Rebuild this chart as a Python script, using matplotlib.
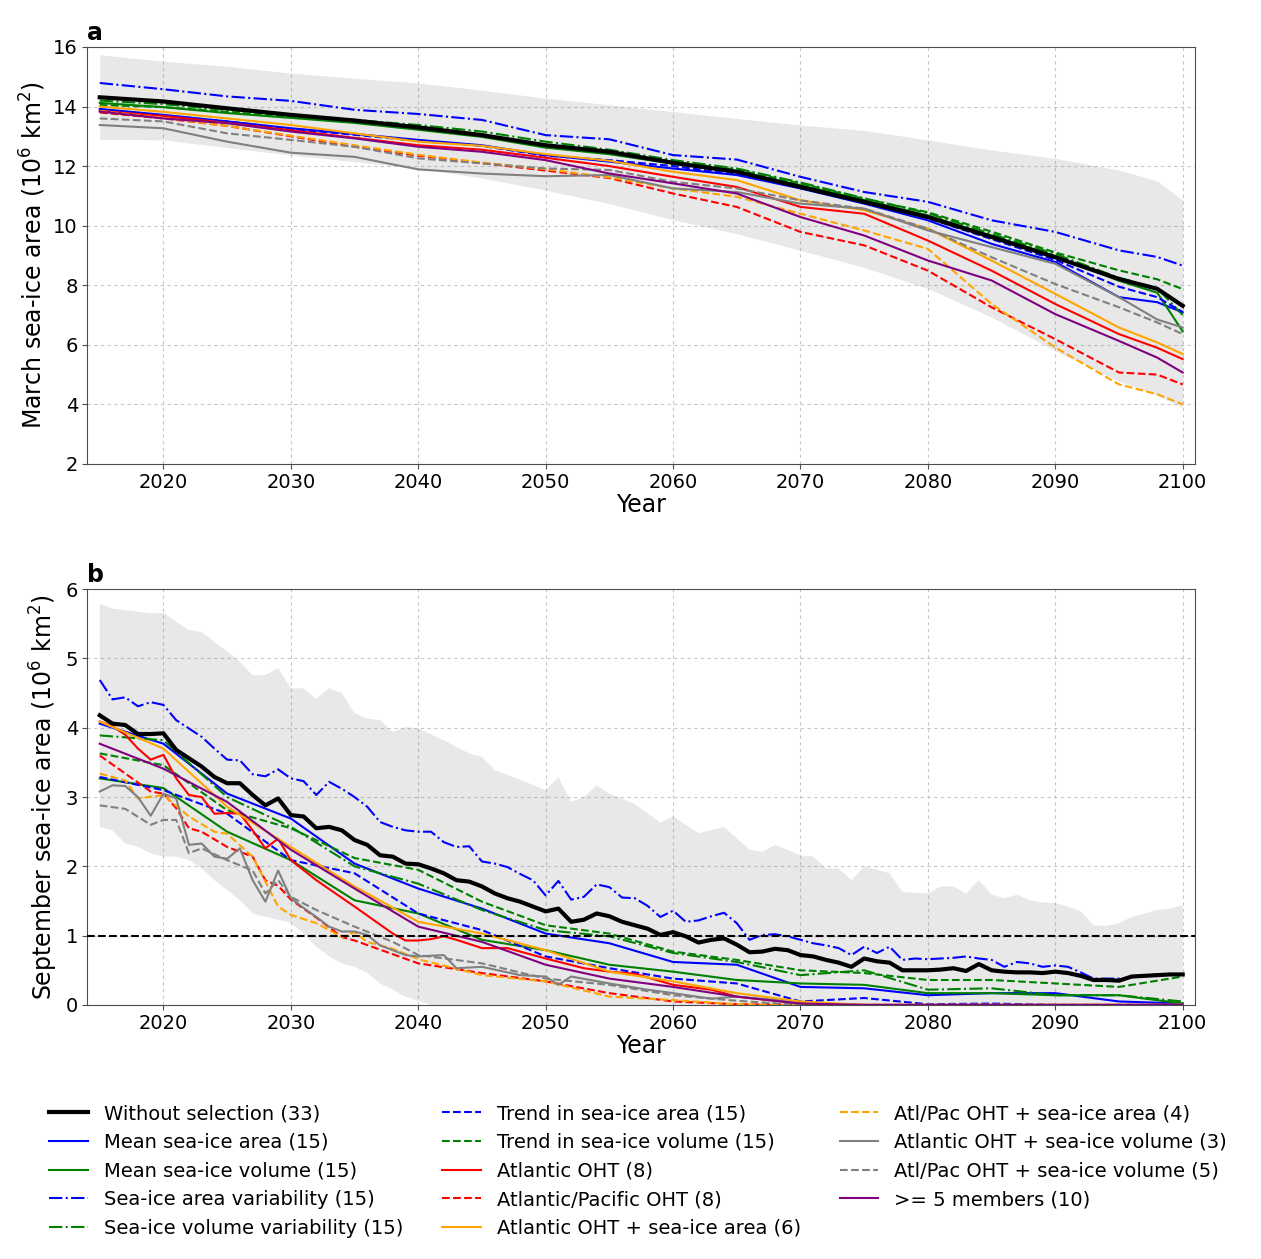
import numpy as np
import matplotlib
matplotlib.use("Agg")
import matplotlib.pyplot as plt

# ---------------- data: panel a (March) ----------------
years_a = [2015, 2020, 2025, 2030, 2035, 2040, 2045, 2050, 2055, 2060,
           2065, 2070, 2075, 2080, 2085, 2090, 2095, 2098, 2100]

env_a_upper = [15.74, 15.52, 15.35, 15.12, 14.95, 14.79, 14.55, 14.28, 14.06, 13.83,
               13.60, 13.38, 13.20, 12.88, 12.54, 12.26, 11.87, 11.50, 10.85]
env_a_lower = [12.90, 12.88, 12.62, 12.37, 12.15, 11.92, 11.60, 11.19, 10.74, 10.20,
               9.73, 9.17, 8.60, 7.89, 6.93, 5.80, 4.78, 4.30, 3.90]

a_black = [14.31, 14.17, 13.94, 13.72, 13.53, 13.30, 13.04, 12.70, 12.48, 12.11,
           11.81, 11.30, 10.80, 10.29, 9.62, 8.94, 8.21, 7.88, 7.31]
a_mean_area = [13.92, 13.72, 13.50, 13.27, 13.08, 12.88, 12.70, 12.37, 12.15, 11.92,
               11.70, 11.25, 10.74, 10.18, 9.39, 8.78, 7.60, 7.43, 7.09]
a_mean_vol = [14.12, 13.98, 13.78, 13.62, 13.45, 13.22, 12.98, 12.62, 12.40, 12.08,
              11.82, 11.36, 10.86, 10.34, 9.66, 8.98, 8.15, 7.75, 6.45]
a_var_area = [14.79, 14.58, 14.34, 14.19, 13.89, 13.75, 13.55, 13.04, 12.90, 12.37,
              12.22, 11.64, 11.13, 10.80, 10.18, 9.79, 9.17, 8.95, 8.66]
a_var_vol = [14.20, 14.08, 13.88, 13.72, 13.55, 13.38, 13.16, 12.82, 12.55, 12.20,
             11.92, 11.45, 10.92, 10.42, 9.72, 9.05, 8.25, 7.90, 7.00]
a_trend_area = [13.85, 13.70, 13.50, 13.25, 13.05, 12.85, 12.68, 12.35, 12.20, 12.00,
                11.72, 11.30, 10.80, 10.25, 9.55, 8.85, 7.95, 7.60, 7.10]
a_trend_vol = [14.05, 13.98, 13.82, 13.66, 13.48, 13.25, 13.02, 12.70, 12.45, 12.15,
               11.88, 11.42, 10.90, 10.45, 9.80, 9.10, 8.50, 8.20, 7.87]
a_atl = [13.85, 13.68, 13.45, 13.20, 12.95, 12.70, 12.55, 12.28, 12.00, 11.64,
         11.30, 10.63, 10.40, 9.50, 8.49, 7.37, 6.36, 5.90, 5.52]
a_atlpac = [13.80, 13.60, 13.35, 13.00, 12.65, 12.35, 12.10, 11.85, 11.60, 11.08,
            10.63, 9.79, 9.34, 8.49, 7.26, 6.19, 5.07, 5.00, 4.67]
a_atl_area = [14.00, 13.82, 13.60, 13.38, 13.10, 12.82, 12.68, 12.40, 12.18, 11.81,
              11.53, 10.85, 10.52, 9.90, 8.83, 7.71, 6.58, 6.08, 5.69]
a_atlpac_area = [13.85, 13.62, 13.35, 13.02, 12.70, 12.38, 12.12, 11.90, 11.62, 11.25,
                 10.97, 10.40, 9.84, 9.22, 7.37, 5.91, 4.67, 4.34, 4.00]
a_atl_vol = [13.38, 13.27, 12.82, 12.45, 12.31, 11.89, 11.75, 11.66, 11.70, 11.25,
             11.13, 10.74, 10.57, 9.84, 9.28, 8.72, 7.60, 6.85, 6.58]
a_atlpac_vol = [13.60, 13.50, 13.10, 12.88, 12.65, 12.26, 12.09, 11.92, 11.87, 11.47,
                11.25, 10.85, 10.57, 9.90, 8.94, 8.04, 7.26, 6.75, 6.36]
a_members = [13.83, 13.60, 13.44, 13.16, 12.93, 12.65, 12.48, 12.20, 11.75, 11.42,
             11.08, 10.29, 9.67, 8.83, 8.16, 7.03, 6.13, 5.57, 5.07]

# ---------------- data: panel b (September) ----------------
years_b = [2015, 2020, 2025, 2030, 2035, 2040, 2045, 2050, 2055, 2060,
           2065, 2070, 2075, 2080, 2085, 2090, 2095, 2100]
years_b_all = list(range(2015, 2101))

env_b_up_years = [2015, 2016, 2017, 2019, 2020, 2021, 2022, 2023, 2024, 2025, 2026, 2027,
                  2028, 2029, 2030, 2031, 2032, 2033, 2034, 2035, 2036, 2037, 2038, 2039,
                  2040, 2042, 2044, 2045, 2046, 2048, 2050, 2051, 2052, 2053, 2054, 2055,
                  2057, 2059, 2060, 2062, 2064, 2066, 2067, 2068, 2070, 2071, 2072, 2073,
                  2074, 2075, 2076, 2077, 2078, 2080, 2081, 2082, 2083, 2084, 2085, 2086,
                  2087, 2088, 2089, 2090, 2091, 2092, 2093, 2094, 2095, 2096, 2097, 2098,
                  2099, 2100]
env_b_upper = [5.79, 5.72, 5.70, 5.65, 5.66, 5.53, 5.41, 5.38, 5.24, 5.10, 4.95, 4.76,
               4.76, 4.86, 4.57, 4.57, 4.42, 4.57, 4.50, 4.21, 4.13, 4.11, 3.94, 4.01,
               3.99, 3.82, 3.63, 3.58, 3.39, 3.25, 3.10, 3.29, 2.93, 3.00, 3.17, 3.05,
               2.90, 2.63, 2.72, 2.48, 2.57, 2.24, 2.21, 2.31, 2.16, 2.14, 1.97, 1.97,
               1.80, 2.00, 1.95, 1.90, 1.63, 1.61, 1.71, 1.71, 1.61, 1.80, 1.59, 1.54,
               1.59, 1.51, 1.48, 1.47, 1.42, 1.35, 1.15, 1.14, 1.18, 1.27, 1.32, 1.37,
               1.39, 1.44]
env_b_low_years = [2015, 2016, 2017, 2018, 2019, 2020, 2021, 2022, 2023, 2024, 2025,
                   2026, 2027, 2028, 2029, 2030, 2031, 2032, 2033, 2034, 2035, 2036,
                   2037, 2038, 2039, 2040, 2041, 2100]
env_b_lower = [2.57, 2.52, 2.33, 2.28, 2.19, 2.14, 2.14, 2.09, 1.97, 1.80, 1.66,
               1.51, 1.32, 1.27, 1.23, 1.18, 1.03, 0.84, 0.70, 0.60, 0.55, 0.46,
               0.31, 0.22, 0.12, 0.06, 0.0, 0.0]

b_black = [4.18, 4.06, 4.04, 3.91, 3.91, 3.92, 3.68, 3.56, 3.44, 3.29,
           3.20, 3.20, 3.03, 2.88, 2.98, 2.74, 2.72, 2.55, 2.57, 2.52,
           2.38, 2.31, 2.16, 2.14, 2.04, 2.03, 1.97, 1.90, 1.80, 1.78,
           1.71, 1.61, 1.54, 1.49, 1.42, 1.35, 1.39, 1.20, 1.23, 1.32,
           1.28, 1.20, 1.15, 1.10, 1.01, 1.05, 0.99, 0.90, 0.94, 0.96,
           0.87, 0.76, 0.77, 0.81, 0.79, 0.72, 0.70, 0.65, 0.61, 0.55,
           0.67, 0.63, 0.61, 0.50, 0.50, 0.50, 0.51, 0.53, 0.49, 0.59,
           0.50, 0.48, 0.47, 0.47, 0.46, 0.48, 0.46, 0.42, 0.36, 0.36,
           0.35, 0.41, 0.42, 0.43, 0.44, 0.44]
b_var_area = [4.69, 4.41, 4.44, 4.31, 4.37, 4.33, 4.11, 3.99, 3.87, 3.70,
              3.54, 3.53, 3.33, 3.30, 3.40, 3.27, 3.23, 3.03, 3.22, 3.12,
              3.00, 2.86, 2.64, 2.57, 2.52, 2.50, 2.50, 2.35, 2.28, 2.29,
              2.07, 2.04, 1.99, 1.89, 1.80, 1.58, 1.79, 1.52, 1.56, 1.74,
              1.70, 1.55, 1.54, 1.43, 1.27, 1.36, 1.20, 1.22, 1.28, 1.33,
              1.18, 0.94, 1.01, 1.02, 0.99, 0.94, 0.89, 0.86, 0.82, 0.72,
              0.84, 0.75, 0.84, 0.65, 0.67, 0.66, 0.67, 0.68, 0.70, 0.67,
              0.65, 0.55, 0.62, 0.60, 0.55, 0.57, 0.55, 0.47, 0.38, 0.38,
              0.38, 0.40, 0.42, 0.44, 0.44, 0.43]
b_mean_area = [4.06, 3.77, 3.05, 2.69, 2.04, 1.68, 1.39, 1.03, 0.89, 0.62,
               0.58, 0.26, 0.24, 0.14, 0.17, 0.17, 0.05, 0.02]
b_mean_vol = [3.27, 3.13, 2.50, 2.09, 1.51, 1.32, 0.94, 0.79, 0.58, 0.48,
              0.36, 0.31, 0.29, 0.17, 0.17, 0.14, 0.14, 0.02]
b_var_vol = [3.89, 3.82, 3.00, 2.57, 2.00, 1.75, 1.37, 1.08, 0.99, 0.75,
             0.62, 0.43, 0.50, 0.22, 0.24, 0.14, 0.14, 0.05]
b_trend_area = [3.29, 3.10, 2.76, 2.09, 1.90, 1.32, 1.08, 0.70, 0.53, 0.38,
                0.31, 0.05, 0.10, 0.01, 0.02, 0.00, 0.00, 0.00]
b_trend_vol = [3.63, 3.46, 2.81, 2.55, 2.12, 1.95, 1.49, 1.15, 1.03, 0.77,
               0.65, 0.50, 0.46, 0.36, 0.36, 0.31, 0.26, 0.41]
b_atl_years = [2015, 2016, 2017, 2018, 2019, 2020, 2021, 2022, 2023, 2024, 2025, 2026,
               2027, 2028, 2029, 2030, 2032, 2035, 2038, 2039, 2040, 2041, 2042, 2043,
               2045, 2047, 2050, 2053, 2055, 2057, 2060, 2063, 2065, 2070, 2075, 2080,
               2085, 2090, 2095, 2100]
b_atl = [4.09, 4.02, 3.90, 3.70, 3.54, 3.61, 3.27, 3.03, 3.00, 2.76, 2.77, 2.76,
         2.52, 2.26, 2.40, 2.09, 1.80, 1.42, 1.03, 0.93, 0.93, 0.95, 0.99, 0.94,
         0.82, 0.82, 0.67, 0.53, 0.48, 0.45, 0.29, 0.22, 0.12, 0.02, 0.00, 0.00,
         0.00, 0.00, 0.00, 0.00]
b_atlpac_years = [2015, 2017, 2019, 2020, 2021, 2022, 2023, 2025, 2027, 2028, 2029,
                  2030, 2032, 2034, 2035, 2040, 2045, 2050, 2055, 2060, 2065, 2070,
                  2075, 2080, 2085, 2090, 2095, 2100]
b_atlpac = [3.60, 3.34, 3.08, 3.05, 2.84, 2.55, 2.50, 2.28, 2.14, 1.80, 1.72,
            1.52, 1.26, 0.98, 0.93, 0.60, 0.46, 0.34, 0.17, 0.05, 0.01, 0.00,
            0.00, 0.00, 0.00, 0.00, 0.00, 0.00]
b_atl_area = [4.09, 3.70, 2.86, 2.28, 1.71, 1.20, 1.03, 0.79, 0.48, 0.34,
              0.17, 0.05, 0.00, 0.00, 0.00, 0.00, 0.00, 0.00]
b_atlpac_area_years = [2015, 2017, 2018, 2020, 2022, 2024, 2025, 2027, 2028, 2029,
                       2030, 2032, 2034, 2035, 2036, 2038, 2040, 2045, 2050, 2055,
                       2060, 2065, 2070, 2075, 2080, 2085, 2090, 2095, 2100]
b_atlpac_area = [3.34, 3.24, 2.98, 3.03, 2.72, 2.50, 2.47, 2.14, 1.78, 1.42,
                 1.30, 1.18, 0.98, 1.05, 0.91, 0.81, 0.66, 0.43, 0.34, 0.12,
                 0.07, 0.01, 0.00, 0.00, 0.00, 0.00, 0.00, 0.00, 0.00]
b_atl_vol_years = list(range(2015, 2041)) + [2042, 2043, 2045, 2048, 2050, 2051, 2052,
                                             2055, 2058, 2060, 2063, 2065, 2068, 2070,
                                             2071, 2075, 2080, 2085, 2090, 2095, 2100]
b_atl_vol = [3.08, 3.17, 3.16, 3.00, 2.73, 3.05, 2.98, 2.31, 2.33, 2.14,
             2.11, 2.26, 1.80, 1.49, 1.94, 1.54, 1.40, 1.27, 1.13, 1.06,
             1.06, 1.01, 0.86, 0.79, 0.72, 0.70,
             0.72, 0.53, 0.55, 0.43, 0.41, 0.29, 0.41,
             0.31, 0.22, 0.17, 0.09, 0.12, 0.07, 0.02,
             0.00, 0.00, 0.00, 0.00, 0.00, 0.00, 0.00]
b_atlpac_vol_years = [2015, 2017, 2019, 2020, 2021, 2022, 2023, 2025, 2027, 2028,
                      2029, 2030, 2032, 2035, 2038, 2040, 2045, 2050, 2055, 2060,
                      2065, 2070, 2075, 2080, 2085, 2090, 2095, 2100]
b_atlpac_vol = [2.88, 2.83, 2.60, 2.67, 2.67, 2.19, 2.26, 2.09, 1.94, 1.61,
                1.80, 1.56, 1.37, 1.13, 0.91, 0.72, 0.60, 0.38, 0.29, 0.14,
                0.06, 0.00, 0.00, 0.00, 0.00, 0.00, 0.00, 0.00]
b_members = [3.77, 3.41, 2.93, 2.24, 1.68, 1.13, 0.91, 0.58, 0.38, 0.26,
             0.12, 0.02, 0.00, 0.00, 0.00, 0.00, 0.00, 0.00]

labels = ["Without selection (33)", "Mean sea-ice area (15)", "Mean sea-ice volume (15)",
          "Sea-ice area variability (15)", "Sea-ice volume variability (15)",
          "Trend in sea-ice area (15)", "Trend in sea-ice volume (15)", "Atlantic OHT (8)",
          "Atlantic/Pacific OHT (8)", "Atlantic OHT + sea-ice area (6)",
          "Atl/Pac OHT + sea-ice area (4)", "Atlantic OHT + sea-ice volume (3)",
          "Atl/Pac OHT + sea-ice volume (5)", ">= 5 members (10)"]

series_a = [a_black, a_mean_area, a_mean_vol, a_var_area, a_var_vol, a_trend_area,
            a_trend_vol, a_atl, a_atlpac, a_atl_area, a_atlpac_area, a_atl_vol,
            a_atlpac_vol, a_members]
series_b = [(years_b_all, b_black), (years_b, b_mean_area), (years_b, b_mean_vol),
            (years_b_all, b_var_area), (years_b, b_var_vol), (years_b, b_trend_area),
            (years_b, b_trend_vol), (b_atl_years, b_atl), (b_atlpac_years, b_atlpac),
            (years_b, b_atl_area), (b_atlpac_area_years, b_atlpac_area),
            (b_atl_vol_years, b_atl_vol), (b_atlpac_vol_years, b_atlpac_vol),
            (years_b, b_members)]

styles = [("black", "-", 3.0), ("blue", "-", 1.5), ("green", "-", 1.5),
          ("blue", "-.", 1.5), ("green", "-.", 1.5), ("blue", "--", 1.5),
          ("green", "--", 1.5), ("red", "-", 1.5), ("red", "--", 1.5),
          ("orange", "-", 1.5), ("orange", "--", 1.5), ("gray", "-", 1.5),
          ("gray", "--", 1.5), ("purple", "-", 1.5)]

fig = plt.figure(figsize=(12.61, 12.59), dpi=100)
ax_a = fig.add_axes([0.069, 0.6315, 0.879, 0.3312])
ax_b = fig.add_axes([0.069, 0.2018, 0.879, 0.3302])

# envelopes
ax_a.fill_between(years_a, env_a_lower, env_a_upper, color="grey", alpha=0.18, lw=0, zorder=1)
ax_b.fill(np.r_[env_b_up_years, env_b_low_years[::-1]],
          np.r_[env_b_upper, env_b_lower[::-1]], color="grey", alpha=0.18, lw=0, zorder=1)

handles = []
for i, (sa, (xb, sb), (c, ls, lw)) in enumerate(zip(series_a, series_b, styles)):
    z = 4 if i == 0 else 3
    h, = ax_a.plot(years_a, sa, color=c, ls=ls, lw=lw, zorder=z, label=labels[i])
    ax_b.plot(xb, sb, color=c, ls=ls, lw=lw, zorder=z)
    handles.append(h)

ax_b.axhline(1.0, color="black", ls="--", lw=1.5, zorder=5)

for ax, ylim, yt, ylab, pl in [
        (ax_a, (2, 16), np.arange(2, 17, 2), "March sea-ice area (10$^6$ km$^2$)", "a"),
        (ax_b, (0, 6), np.arange(0, 7, 1), "September sea-ice area (10$^6$ km$^2$)", "b")]:
    ax.set_xlim(2014, 2101)
    ax.set_ylim(*ylim)
    ax.set_xticks(np.arange(2020, 2101, 10))
    ax.set_yticks(yt)
    ax.tick_params(labelsize=14, color="0.3", pad=3)
    ax.grid(True, ls=(0, (3, 3)), color="0.78", lw=0.8, zorder=0)
    ax.set_axisbelow(True)
    ax.set_xlabel("Year", fontsize=17, labelpad=1)
    ax.set_ylabel(ylab, fontsize=17)
    for s in ax.spines.values():
        s.set_color("0.3")
    ax.text(0.0, 1.005, pl, transform=ax.transAxes, fontsize=17, fontweight="bold",
            va="bottom", ha="left")

fig.legend(handles, labels, loc="upper center", bbox_to_anchor=(0.506, 0.137), ncol=3,
           frameon=False, fontsize=14, handlelength=2.0, labelspacing=0.5,
           columnspacing=2.0, handletextpad=0.8)

fig.savefig("out.png", dpi=100)
